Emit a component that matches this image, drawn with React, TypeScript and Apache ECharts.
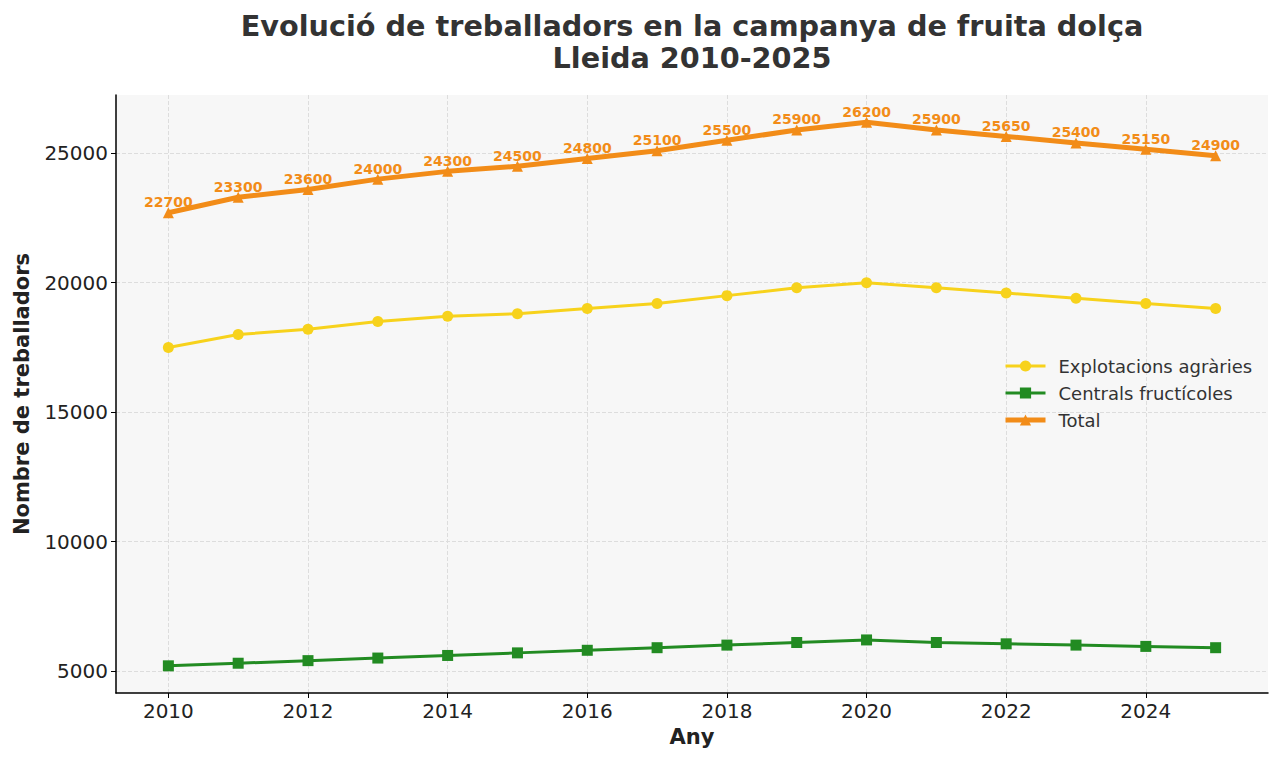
import React, { useEffect, useRef } from "react";
import * as echarts from "echarts";

const years = [2010, 2011, 2012, 2013, 2014, 2015, 2016, 2017, 2018, 2019, 2020, 2021, 2022, 2023, 2024, 2025];
const explotacions = [17500, 18000, 18200, 18500, 18700, 18800, 19000, 19200, 19500, 19800, 20000, 19800, 19600, 19400, 19200, 19000];
const centrals = [5200, 5300, 5400, 5500, 5600, 5700, 5800, 5900, 6000, 6100, 6200, 6100, 6050, 6000, 5950, 5900];
const total = [22700, 23300, 23600, 24000, 24300, 24500, 24800, 25100, 25500, 25900, 26200, 25900, 25650, 25400, 25150, 24900];
const xTicks = [2010, 2012, 2014, 2016, 2018, 2020, 2022, 2024];
const yTicks = [5000, 10000, 15000, 20000, 25000];

const FONT = "DejaVu Sans";

export default function App() {
  const ref = useRef<HTMLDivElement>(null);
  useEffect(() => {
    if (!ref.current) return;
    const chart = echarts.init(ref.current, null, { renderer: "svg" });
    const pair = (arr: number[]) => years.map((y, i) => [y, arr[i]]);
    chart.setOption({
      animation: false,
      textStyle: { fontFamily: FONT },
      title: {
        text: "Evolució de treballadors en la campanya de fruita dolça\nLleida 2010-2025",
        left: 687,
        top: 5,
        textAlign: "center",
        textStyle: { fontFamily: FONT, fontSize: 28.7, fontWeight: "bold", color: "#333333", lineHeight: 32 },
      },
      grid: {
        left: 116,
        right: 12,
        top: 95,
        bottom: 70,
        show: true,
        backgroundColor: "#f7f7f7",
        borderWidth: 0,
      },
      legend: {
        orient: "vertical",
        left: 998,
        top: 352,
        itemWidth: 40,
        itemHeight: 14,
        itemGap: 9,
        textStyle: { fontFamily: FONT, fontSize: 18, color: "#333333", padding: [0, 0, 0, 8] },
        data: [
          { name: "Explotacions agràries", lineStyle: { width: 3 } },
          { name: "Centrals fructícoles", lineStyle: { width: 3 } },
          { name: "Total", lineStyle: { width: 5 } },
        ],
      },
      xAxis: {
        type: "value",
        min: 2009.25,
        max: 2025.75,
        name: "Any",
        nameLocation: "middle",
        nameGap: 33,
        nameTextStyle: { fontFamily: FONT, fontSize: 21, fontWeight: "bold", color: "#222222" },
        axisLine: { show: true, lineStyle: { color: "#000000", width: 1.5 } },
        axisTick: { show: true, customValues: xTicks, length: 5, lineStyle: { color: "#000000" } },
        axisLabel: { customValues: xTicks, fontFamily: FONT, fontSize: 20, color: "#222222", margin: 8, formatter: (v: number) => String(v) },
        splitLine: { show: true, lineStyle: { color: "#dddddd", type: "dashed", width: 1 } },
      },
      yAxis: {
        type: "value",
        min: 4150,
        max: 27250,
        name: "Nombre de treballadors",
        nameLocation: "middle",
        nameGap: 84,
        nameTextStyle: { fontFamily: FONT, fontSize: 21, fontWeight: "bold", color: "#222222" },
        axisLine: { show: true, lineStyle: { color: "#000000", width: 1.5 } },
        axisTick: { show: true, customValues: yTicks, length: 5, lineStyle: { color: "#000000" } },
        axisLabel: { customValues: yTicks, fontFamily: FONT, fontSize: 20, color: "#222222", margin: 8, formatter: (v: number) => String(v) },
        splitLine: { show: true, lineStyle: { color: "#dddddd", type: "dashed", width: 1 } },
      },
      series: [
        {
          name: "Explotacions agràries",
          type: "line",
          data: pair(explotacions),
          symbol: "circle",
          symbolSize: 11,
          itemStyle: { color: "#f7d21c" },
          lineStyle: { color: "#f7d21c", width: 3 },
          z: 2,
        },
        {
          name: "Centrals fructícoles",
          type: "line",
          data: pair(centrals),
          symbol: "rect",
          symbolSize: 11,
          itemStyle: { color: "#228b22" },
          lineStyle: { color: "#228b22", width: 3 },
          z: 2,
        },
        {
          name: "Total",
          type: "line",
          data: pair(total),
          symbol: "triangle",
          symbolSize: 11,
          itemStyle: { color: "#f28c18" },
          lineStyle: { color: "#f28c18", width: 5 },
          label: {
            show: true,
            position: "top",
            distance: 0,
            offset: [0, 2],
            fontFamily: FONT,
            fontSize: 14,
            fontWeight: "bold",
            color: "#f28c18",
            formatter: (p: any) => String(p.value[1]),
          },
          z: 3,
        },
      ],
    });
    return () => chart.dispose();
  }, []);
  return <div ref={ref} style={{ width: 1280, height: 763, position: "absolute", left: 0, top: 0 }} />;
}
